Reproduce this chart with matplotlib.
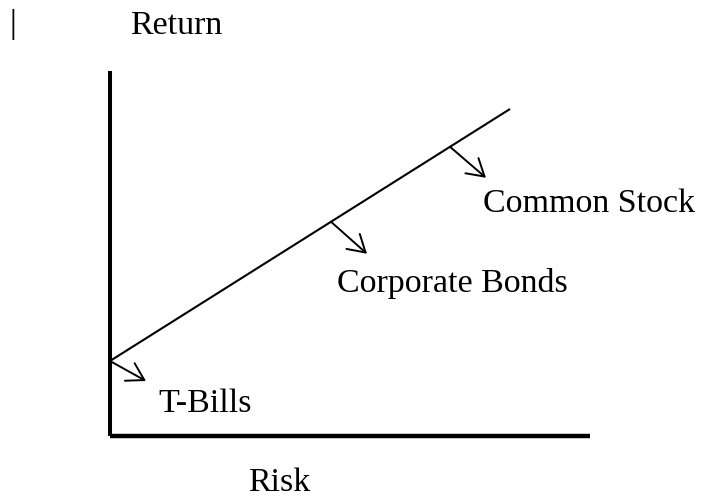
import matplotlib
matplotlib.use("Agg")
import matplotlib.pyplot as plt
import numpy as np

# ---- data (arbitrary diagram units: risk on x, return on y) ----
axis_labels = ["Risk", "Return"]
risk_free_return = 75
slope = 0.63
line_risk_max = 400
asset_names = ["T-Bills", "Corporate Bonds", "Common Stock"]
asset_risk = [0, 221, 340]

# ---- layout ----
fig = plt.figure(figsize=(7.04, 4.97), dpi=100)
ax = fig.add_axes([0, 0, 1, 1])
ax.set_xlim(-110, 594)
ax.set_ylim(-61, 436)
ax.axis("off")

font = dict(family=["Liberation Serif", "DejaVu Serif"], fontsize=24.5, color="black")

# axes lines
ax.plot([0, 0], [0, 365], color="black", lw=2.9, solid_capstyle="butt")
ax.plot([0, 480], [0, 0], color="black", lw=3.2, solid_capstyle="butt")

# risk-return line
xs = np.array([0, line_risk_max])
ax.plot(xs, risk_free_return + slope * xs, color="black", lw=1.5, solid_capstyle="butt")

# arrows and labels
arrow_vec = [(36, -20), (36, -32), (36, -31)]
label_pos = [(48, 24), (227, 144), (373, 224)]
for name, r, (dx, dy), (tx, ty) in zip(asset_names, asset_risk, arrow_vec, label_pos):
    y0 = risk_free_return + slope * r
    ax.annotate("", xy=(r + dx, y0 + dy), xytext=(r, y0),
                arrowprops=dict(arrowstyle="->,head_length=1.0,head_width=0.6",
                                mutation_scale=12, color="black", lw=1.4,
                                shrinkA=0, shrinkB=0))
    ax.text(tx, ty, name, ha="left", va="baseline", **font)

ax.text(138, -55, axis_labels[0], ha="left", va="baseline", **font)
ax.text(20, 402, axis_labels[1], ha="left", va="baseline", **font)
ax.text(-97, 411, "|", ha="center", va="center", **font)

fig.savefig("out.png", dpi=100)
